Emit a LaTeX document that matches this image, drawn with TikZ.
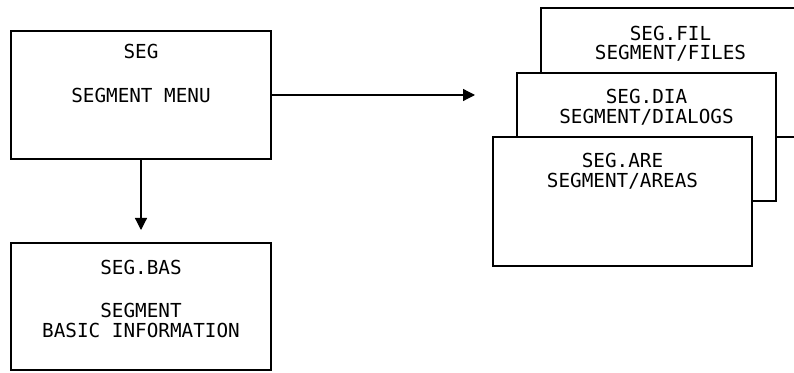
\documentclass[tikz,border=0pt]{standalone}
\usepackage{fontspec}
\setmonofont{DejaVu Sans Mono}
\usetikzlibrary{arrows.meta}
\begin{document}
\begin{tikzpicture}[x=1pt,y=1pt,
	box/.style={draw,line width=1.2pt,fill=white,minimum width=259pt,inner sep=0pt},
	txt/.style={anchor=base,inner sep=0pt,font=\ttfamily\fontsize{19.3}{20}\selectfont},
	arr/.style={line width=1.2pt,-{Triangle[length=12pt,width=12pt]}}]
	\clip (0,0) rectangle (794,372);
	\node [box,minimum width=260pt,minimum height=128pt] (seg) at (141,277) {};
	\node [box,minimum width=260pt,minimum height=127pt] (bas) at (141,65.5) {};
	\node [box,minimum height=129pt] (fil) at (670.5,299.5) {};
	\node [box,minimum height=128pt] (dia) at (646.5,235) {};
	\node [box,minimum height=129pt] (are) at (622.5,170.5) {};
	\node [txt] (segname) at (141,313) {SEG};
	\node [txt] (segtitle) at (141,269) {SEGMENT MENU};
	\node [txt] (basname) at (141,97) {SEG.BAS};
	\node [txt] (bastitle) at (141,55) {SEGMENT};
	\node [txt] (basinfo) at (141,35) {BASIC INFORMATION};
	\node [txt] (filname) at (670.5,331.7) {SEG.FIL};
	\node [txt] (filtitle) at (670.5,312.5) {SEGMENT/FILES};
	\node [txt] (dianame) at (646.5,268) {SEG.DIA};
	\node [txt] (diatitle) at (646.5,248.7) {SEGMENT/DIALOGS};
	\node [txt] (arename) at (622.5,204.3) {SEG.ARE};
	\node [txt] (aretitle) at (622.5,184.7) {SEGMENT/AREAS};
	\coordinate (stack) at (475,277);
	\coordinate (down) at (141,142);
	\draw [arr] (seg.east) -- (stack);
	\draw [arr] (seg.south) -- (down);
\end{tikzpicture}
\end{document}
